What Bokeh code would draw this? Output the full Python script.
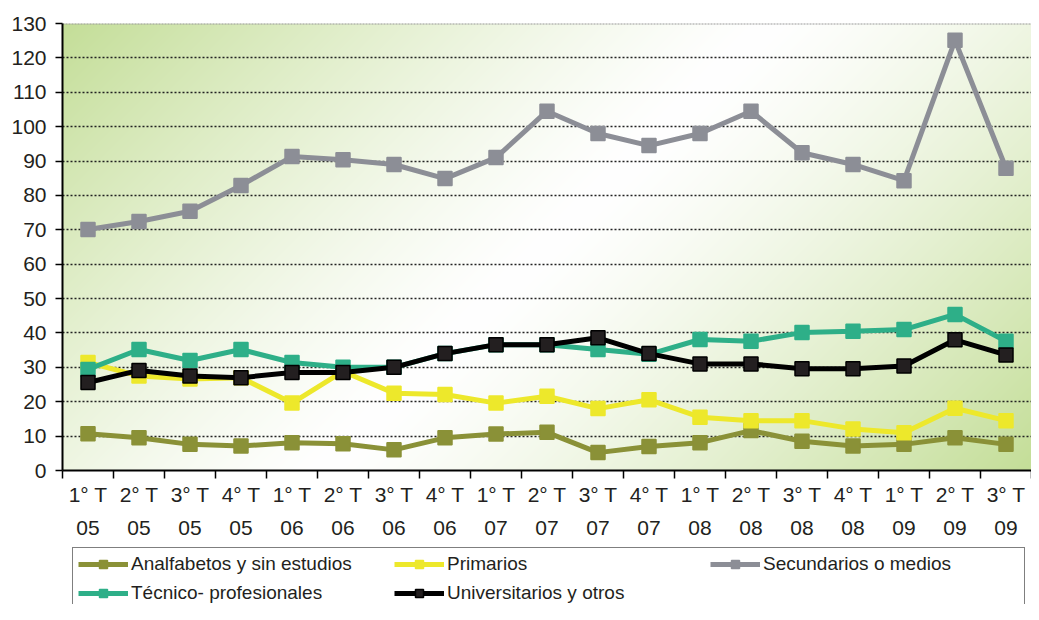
import numpy as np
from bokeh.plotting import figure
from bokeh.layouts import column
from bokeh.models import Range1d, FixedTicker, LinearAxis, Legend, LegendItem, Span
from bokeh.embed import file_html
from bokeh.resources import INLINE

quarters = ["1° T", "2° T", "3° T", "4° T"] * 4 + ["1° T", "2° T", "3° T"]
years = ["05"] * 4 + ["06"] * 4 + ["07"] * 4 + ["08"] * 4 + ["09"] * 3

analfabetos = [10.7, 9.5, 7.6, 7.1, 8.1, 7.8, 6.0, 9.5, 10.6, 11.1, 5.2, 7.0, 8.1, 11.6, 8.5, 7.1, 7.6, 9.5, 7.6]
primarios = [31.4, 27.5, 26.6, 27.0, 19.6, 28.8, 22.5, 22.1, 19.6, 21.6, 18.0, 20.6, 15.5, 14.5, 14.5, 12.1, 11.0, 18.1, 14.5]
secundarios = [70.1, 72.4, 75.4, 82.9, 91.3, 90.4, 89.0, 84.9, 91.0, 104.5, 98.0, 94.5, 98.0, 104.5, 92.4, 89.0, 84.3, 125.1, 87.9]
tecnico = [29.4, 35.2, 32.0, 35.2, 31.4, 30.0, 30.0, 34.0, 36.6, 36.6, 35.2, 33.8, 38.1, 37.6, 40.1, 40.5, 41.0, 45.4, 37.6]
universitarios = [25.6, 29.1, 27.5, 27.0, 28.5, 28.5, 30.0, 34.0, 36.6, 36.6, 38.6, 34.0, 31.0, 31.0, 29.6, 29.6, 30.4, 38.0, 33.6]

series_names = ["Analfabetos y sin estudios", "Primarios", "Secundarios o medios",
                "Técnico- profesionales", "Universitarios y otros"]
series_values = [analfabetos, primarios, secundarios, tecnico, universitarios]
series_colors = ["#8a9137", "#ede82b", "#8c8e96", "#2eaf88", "#000000"]
marker_fill = ["#8a9137", "#ede82b", "#8c8e96", "#2eaf88", "#231f20"]

FONT = "Liberation Sans"
TXT = "#231f20"

xs = list(range(len(quarters)))

p = figure(width=1031, height=546, output_backend="svg", toolbar_location=None,
           x_range=Range1d(-0.5, len(quarters) - 0.5), y_range=Range1d(0, 130),
           min_border_left=62, min_border_right=0, min_border_top=23, min_border_bottom=76)
p.outline_line_color = None
p.background_fill_color = "white"
p.border_fill_color = "white"

# gradient background
W, H = 969, 447
gx = np.arange(W)[None, :]
gy = (H - 1 - np.arange(H))[:, None]
t = (gx + gy) / (W + H - 2)
f = np.abs(2 * t - 1) ** 1.3
img = np.empty((H, W), dtype=np.uint32)
v = img.view(dtype=np.uint8).reshape((H, W, 4))
v[..., 0] = (255 + f * (196 - 255)).astype(np.uint8)
v[..., 1] = (255 + f * (222 - 255)).astype(np.uint8)
v[..., 2] = (255 + f * (152 - 255)).astype(np.uint8)
v[..., 3] = 255
p.image_rgba(image=[img], x=-0.5, y=0, dw=len(quarters), dh=130, level="image")

# grid
p.xgrid.visible = False
p.ygrid.ticker = FixedTicker(ticks=list(range(10, 130, 10)))
p.ygrid.grid_line_color = "#222222"
p.ygrid.grid_line_dash = "2 2"
p.ygrid.grid_line_width = 1.5
p.add_layout(Span(location=130, dimension="width", line_color="#999999",
                  line_width=2, line_dash="2 1", level="underlay"))

# y axis
yax = p.yaxis[0]
yax.ticker = FixedTicker(ticks=list(range(0, 131, 10)))
yax.axis_line_color = "#000000"
yax.axis_line_width = 2
yax.major_tick_line_color = "#000000"
yax.major_tick_line_width = 1.5
yax.major_tick_in = 0
yax.major_tick_out = 7
yax.minor_tick_line_color = None
yax.major_label_standoff = 9
yax.major_label_text_font = FONT
yax.major_label_text_font_size = "21px"
yax.major_label_text_color = TXT

# x axis (quarters)
xax = p.xaxis[0]
xax.ticker = FixedTicker(ticks=xs, minor_ticks=[i - 0.5 for i in range(len(quarters) + 1)])
xax.major_label_overrides = {i: q for i, q in enumerate(quarters)}
xax.axis_line_color = "#000000"
xax.axis_line_width = 2
xax.major_tick_line_color = None
xax.major_tick_in = 0
xax.major_tick_out = 0
xax.minor_tick_line_color = "#000000"
xax.minor_tick_line_width = 1.5
xax.minor_tick_in = 0
xax.minor_tick_out = 8
xax.major_label_standoff = 4
xax.major_label_text_font = FONT
xax.major_label_text_font_size = "21px"
xax.major_label_text_color = TXT

# x axis (years)
xax2 = LinearAxis(ticker=FixedTicker(ticks=xs))
xax2.major_label_overrides = {i: y for i, y in enumerate(years)}
xax2.axis_line_color = None
xax2.major_tick_line_color = None
xax2.minor_tick_line_color = None
xax2.major_tick_in = 0
xax2.major_tick_out = 0
xax2.major_label_standoff = 12
xax2.major_label_text_font = FONT
xax2.major_label_text_font_size = "21px"
xax2.major_label_text_color = TXT
p.add_layout(xax2, "below")

for vals, col, mf in zip(series_values, series_colors, marker_fill):
    p.line(xs, vals, line_color=col, line_width=5)
    p.scatter(xs, vals, marker="square", size=14, fill_color=mf,
              line_color=col, line_width=1.5)

# legend in its own strip below the chart (its renderers sit outside its visible range)
lg = figure(width=1031, height=58, output_backend="svg", toolbar_location=None,
            x_range=Range1d(-0.5, len(quarters) - 0.5), y_range=Range1d(1000, 1001),
            x_axis_location=None, y_axis_location=None,
            min_border_left=62, min_border_right=0, min_border_top=0, min_border_bottom=0)
lg.xgrid.visible = False
lg.ygrid.visible = False
lg.outline_line_color = None
lg.background_fill_color = "white"
lg.border_fill_color = "white"

items = []
for name, vals, col, mf in zip(series_names, series_values, series_colors, marker_fill):
    lr = lg.line(xs, vals, line_color=col, line_width=5)
    sr = lg.scatter(xs, vals, marker="square", size=11, fill_color=mf,
                    line_color=col, line_width=1.5)
    items.append(LegendItem(label=name, renderers=[lr, sr]))

legend = Legend(items=items, orientation="horizontal", ncols=3,
                location=(10, -6),
                glyph_width=50, glyph_height=20, label_standoff=3, label_width=256,
                spacing=7, padding=5, margin=0,
                label_text_font=FONT, label_text_font_size="19px", label_text_color=TXT,
                border_line_color="#000000", border_line_width=1.5,
                background_fill_color="white", background_fill_alpha=1)
lg.add_layout(legend, "center")

open("out.html", "w").write(file_html(column(p, lg, spacing=0), INLINE))
